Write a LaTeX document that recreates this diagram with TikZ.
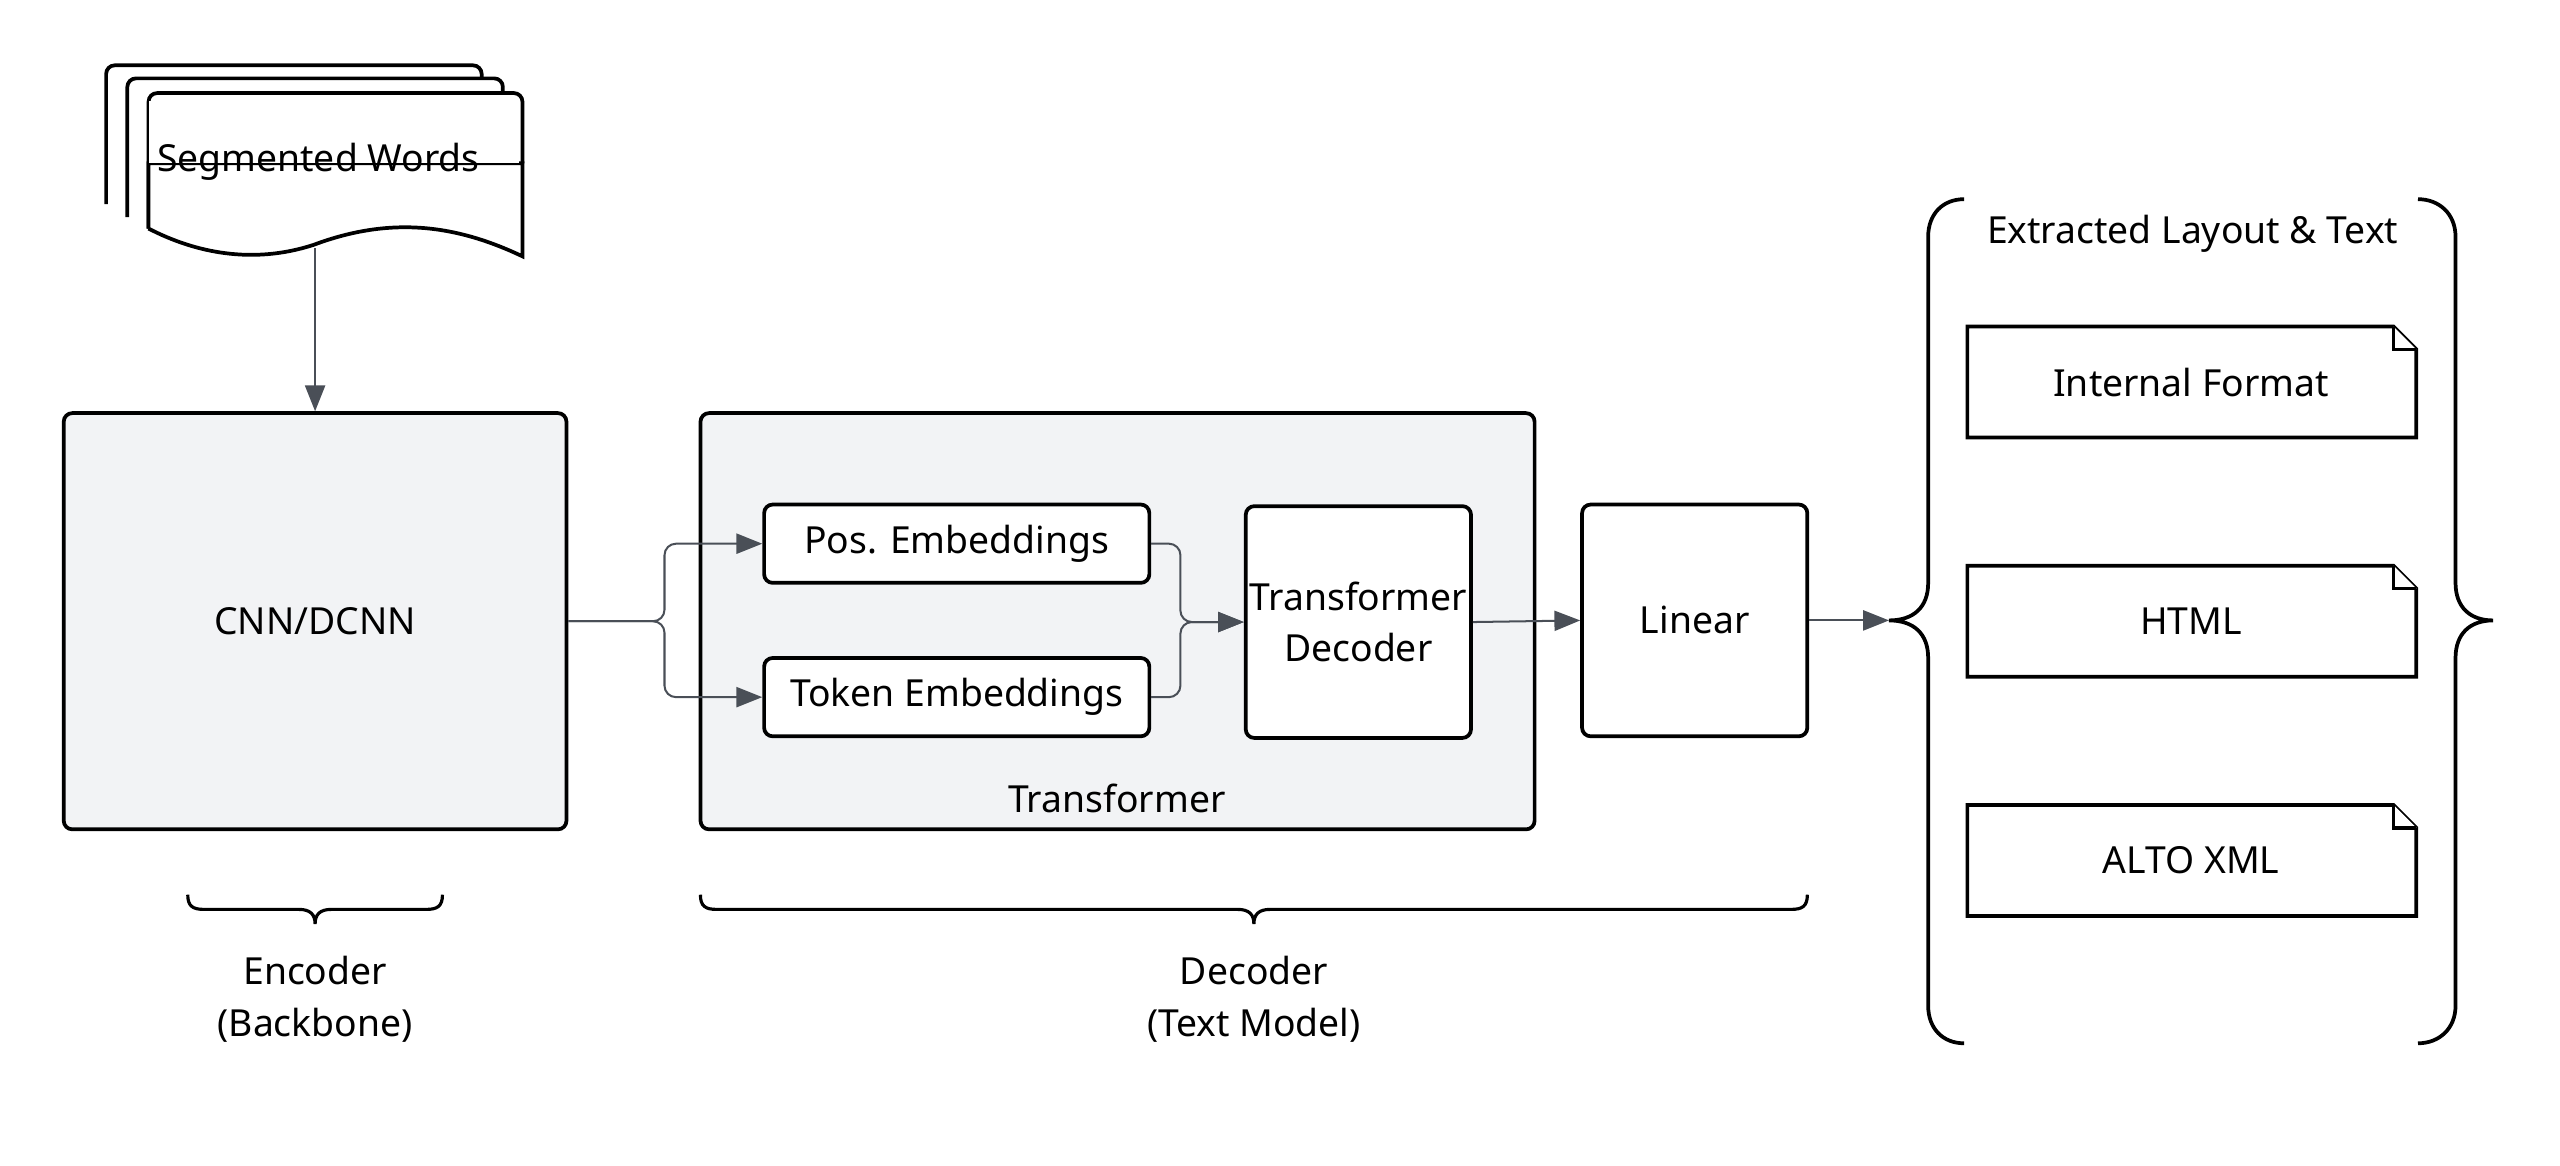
\documentclass[tikz,border=0pt]{standalone}
\usepackage{fontspec}
\setmainfont{Noto Sans}
\usetikzlibrary{arrows.meta,decorations.pathreplacing,calc}
\definecolor{boxgray}{HTML}{F2F3F5}
\definecolor{conn}{HTML}{4A4F57}
\begin{document}
\begin{tikzpicture}[x=0.02cm,y=-0.02cm,
  font=\fontsize{13}{16}\selectfont,
  box/.style={draw=black,line width=1.3pt,rounded corners=3pt,align=center,inner sep=0pt},
  grp/.style={box,fill=boxgray},
  doc/.style={draw=black,line width=1.3pt,fill=white},
  conn/.style={draw=conn,line width=0.7pt,rounded corners=4pt},
  arr/.style={conn,-{Triangle[length=9pt,width=7pt]}},
  br/.style={draw=black,line width=1.3pt}]
\useasboundingbox (0,0) rectangle (1568,714);
% stacked documents
\foreach \dx/\dy in {0/0,13/8} {
  \draw[doc,rounded corners=3pt] (65+\dx,125+\dy) -- (65+\dx,40+\dy) -- (295+\dx,40+\dy) -- (295+\dx,60+\dy);
}
\draw[doc,rounded corners=3pt] (91,140) -- (91,57) -- (320,57) -- (320,100);
\draw[doc] (91,140) -- (91,100) -- (320,100) -- (320,157) .. controls (280,138) and (240,132) .. (192,150) .. controls (155,162) and (120,155) .. (91,140);
\draw[doc,draw=none] (91,62) rectangle (318,100);
\node (seg) at (195,99) {Segmented Words};
\coordinate (segb) at (193,152);
% main boxes
\node[grp,minimum width=6.16cm,minimum height=5.1cm] (cnn) at (193,380.5) {CNN/DCNN};
\node[grp,minimum width=10.22cm,minimum height=5.1cm] (tr) at (684.5,380.5) {};
\node (trl) at (684,489) {Transformer};
\node[box,fill=white,minimum width=4.72cm,minimum height=0.96cm] (pos) at (586,333) {Pos. Embeddings};
\node[box,fill=white,minimum width=4.72cm,minimum height=0.96cm] (tok) at (586,427) {Token Embeddings};
\node[box,fill=white,minimum width=2.76cm,minimum height=2.84cm] (td) at (832,381) {Transformer\\[2pt]Decoder};
\node[box,fill=white,minimum width=2.76cm,minimum height=2.84cm] (lin) at (1038,380) {Linear};
% connectors
\draw[arr] (segb) -- (cnn.north);
\draw[arr] (cnn.east) -- (407,380.5) |- (pos.west);
\draw[arr] (cnn.east) -- (407,380.5) |- (tok.west);
\draw[arr] (pos.east) -- (723,333) |- (td.west);
\draw[arr] (tok.east) -- (723,427) |- (td.west);
\draw[arr] (td.east) -- (lin.west);
\coordinate (brtip) at (1157,380);
\draw[arr] (lin.east) -- (brtip);
% output braces
\draw[br] (1203,122) .. controls (1190,122) and (1181,131) .. (1181,145) -- (1181,357) .. controls (1181,372) and (1172,380) .. (1157,380) .. controls (1172,380) and (1181,388) .. (1181,403) -- (1181,616) .. controls (1181,630) and (1190,639) .. (1203,639);
\draw[br] (1481,122) .. controls (1494,122) and (1504,131) .. (1504,145) -- (1504,357) .. controls (1504,372) and (1513,380) .. (1527,380) .. controls (1513,380) and (1504,388) .. (1504,403) -- (1504,616) .. controls (1504,630) and (1494,639) .. (1481,639);
\node (ext) at (1343,143) {Extracted Layout \& Text};
\foreach \n/\y/\t in {intf/234/Internal Format,html/380.5/HTML,alto/527/ALTO XML} {
  \draw[doc] (1205,\y-34) -- (1466,\y-34) -- (1480,\y-20) -- (1480,\y+34) -- (1205,\y+34) -- cycle;
  \draw[doc] (1466,\y-34) -- (1466,\y-20) -- (1480,\y-20);
  \node (\n) at (1342,\y) {\t};
}
% bottom braces
\draw[br,line width=1.1pt] (115,548) .. controls (115,555) and (118,557) .. (125,557) -- (183,557) .. controls (190,557) and (193,560) .. (193,566) .. controls (193,560) and (196,557) .. (203,557) -- (261,557) .. controls (268,557) and (271,555) .. (271,548);
\draw[br,line width=1.1pt] (429,548) .. controls (429,555) and (432,557) .. (439,557) -- (758,557) .. controls (765,557) and (768,560) .. (768,566) .. controls (768,560) and (771,557) .. (778,557) -- (1097,557) .. controls (1104,557) and (1107,555) .. (1107,548);
\node[align=center] (enc) at (193,612) {Encoder\\[2pt](Backbone)};
\node[align=center] (dec) at (768,612) {Decoder\\[2pt](Text Model)};
\end{tikzpicture}
\end{document}
